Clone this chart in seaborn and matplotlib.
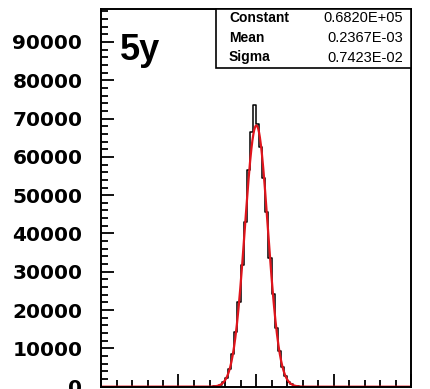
import numpy as np
import pandas as pd
import matplotlib
matplotlib.use("Agg")
import matplotlib.pyplot as plt
import seaborn as sns
from matplotlib.ticker import MultipleLocator, FixedLocator, FuncFormatter
from matplotlib.patches import Rectangle

# ---- data ----
bin_centers = [-0.029, -0.027, -0.025, -0.023, -0.021, -0.019, -0.017, -0.015,
               -0.013, -0.011, -0.009, -0.007, -0.005, -0.003, -0.001,
               0.001, 0.003, 0.005, 0.007, 0.009, 0.011, 0.013, 0.015,
               0.017, 0.019, 0.021, 0.023, 0.025, 0.027, 0.029]
bin_counts = [30, 90, 220, 520, 1150, 2400, 4700, 8500,
              14200, 22000, 31800, 43000, 56500, 66500, 73500,
              68500, 62500, 54500, 45500, 33500, 24200, 15300, 9300,
              5200, 2750, 1350, 600, 250, 95, 35]
x_range = [-0.1, 0.1]
bin_width = 0.002
y_ticks = [0, 10000, 20000, 30000, 40000, 50000, 60000, 70000, 80000, 90000]

fit_constant = 0.6820e+05
fit_mean = 0.2367e-03
fit_sigma = 0.7423e-02
stat_names = ["Constant", "Mean", "Sigma"]
stat_values = ["0.6820E+05", "0.2367E-03", "0.7423E-02"]
panel_label = "5y"

# ---- figure ----
sns.set_style("ticks")
plt.rcParams["text.color"] = "black"
fig = plt.figure(figsize=(4.3, 3.89), dpi=100)
W, H = 430.0, 389.0
ax_left, ax_right, ax_top, ax_bottom = 101.0, 411.0, 9.0, 386.7
ax = fig.add_axes([ax_left / W, 1 - ax_bottom / H,
                   (ax_right - ax_left) / W, (ax_bottom - ax_top) / H])

df = pd.DataFrame({"x": bin_centers, "w": bin_counts})
sns.histplot(data=df, x="x", weights="w", binwidth=bin_width,
             binrange=tuple(x_range), element="step",
             fill=False, color="black", linewidth=1.1, ax=ax)

xs = np.linspace(x_range[0], x_range[1], 1201)
ys = fit_constant * np.exp(-0.5 * ((xs - fit_mean) / fit_sigma) ** 2)
sns.lineplot(x=xs, y=ys, color="#e0141c", linewidth=1.6, ax=ax)

ax.set_xlim(*x_range)
ax.set_ylim(0, 98600)
ax.set_xlabel("")
ax.set_ylabel("")

ax.xaxis.set_major_locator(MultipleLocator(0.05))
ax.xaxis.set_minor_locator(MultipleLocator(0.01))
ax.yaxis.set_major_locator(FixedLocator(y_ticks))
ax.yaxis.set_minor_locator(MultipleLocator(2000))
ax.yaxis.set_major_formatter(FuncFormatter(lambda v, p: f"{int(round(v))}"))

ax.tick_params(which="major", direction="in", length=9.5, width=1.3,
               color="black", labelcolor="black", labelbottom=False, pad=13.5)
ax.tick_params(which="minor", direction="in", length=5, width=1.3,
               color="black")
ax.tick_params(axis="y", labelsize=14.5)
for lab in ax.get_yticklabels():
    lab.set_fontweight("bold")
    lab.set_fontfamily("DejaVu Sans")
    lab.set_color("black")

for s in ax.spines.values():
    s.set_linewidth(1.4)
    s.set_color("black")

# panel label
ax.text((120 - ax_left) / (ax_right - ax_left),
        (ax_bottom - 60) / (ax_bottom - ax_top), panel_label,
        transform=ax.transAxes, fontsize=26, fontweight="bold",
        family="Liberation Sans", ha="left", va="baseline", color="black")

# stats box
bx0 = (216 - ax_left) / (ax_right - ax_left)
by0 = (ax_bottom - 68.3) / (ax_bottom - ax_top)
ax.add_patch(Rectangle((bx0, by0), 1 - bx0, 1 - by0, transform=ax.transAxes,
                       fill=True, facecolor="white", edgecolor="black",
                       linewidth=1.2, zorder=5, clip_on=False))
row_y = [18, 38, 57.5]
for name, val, ry in zip(stat_names, stat_values, row_y):
    yy = (ax_bottom - ry) / (ax_bottom - ax_top)
    ax.text((229 - ax_left) / (ax_right - ax_left), yy, name,
            transform=ax.transAxes, fontsize=10, fontweight="bold",
            family="Liberation Sans", ha="left", va="center", zorder=6,
            color="black")
    ax.text((402.7 - ax_left) / (ax_right - ax_left), yy, val,
            transform=ax.transAxes, fontsize=10.5, family="Liberation Sans",
            ha="right", va="center", zorder=6, color="black")

fig.savefig("out.png", dpi=100)
